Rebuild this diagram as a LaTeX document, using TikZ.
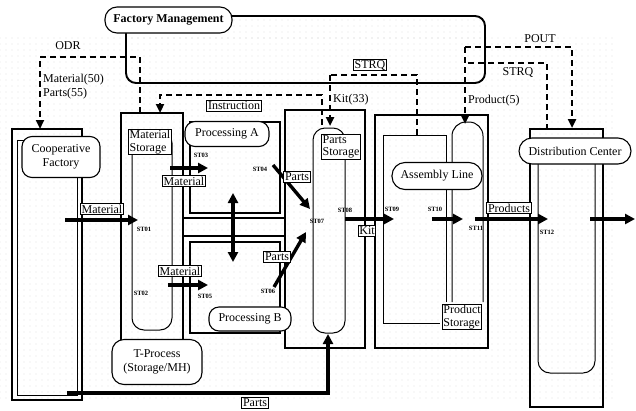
\documentclass[tikz,border=0pt]{standalone}
\usepackage{fontspec}
\setmainfont{Liberation Serif}
\usetikzlibrary{arrows.meta,patterns.meta}
\tikzdeclarepattern{
  name=sparsedots,
  type=uncolored,
  bottom left={(-0.6pt,-0.6pt)},
  top right={(0.6pt,0.6pt)},
  tile size={(6pt,6pt)},
  code={\fill (0pt,0pt) circle (0.45pt);}
}
\begin{document}
\begin{tikzpicture}[x=1pt,y=-1pt,
 mainln/.style={line width=1.9pt},
 thinln/.style={line width=1pt},
 dblln/.style={line width=2.3pt},
 flowarr/.style={line width=3.4pt,-{Triangle[length=10pt,width=10pt]}},
 flowdbl/.style={line width=3.4pt,{Triangle[length=10pt,width=10pt]}-{Triangle[length=10pt,width=10pt]}},
 ctrlln/.style={line width=2.6pt,dash pattern=on 6pt off 4pt},
 ctrlarr/.style={ctrlln,-{Triangle[length=9pt,width=8pt]}},
 rnode/.style={draw,fill=white,line width=1.1pt,rounded corners=10pt,font=\fontsize{12}{13.5}\selectfont,align=center,inner sep=2pt},
 lbl/.style={draw,fill=white,line width=0.9pt,inner sep=1.2pt,font=\fontsize{12}{12.5}\selectfont,align=left},
 stlbl/.style={font=\bfseries\fontsize{6.5}{7}\selectfont,inner sep=0pt},
 plaintxt/.style={font=\fontsize{12}{13}\selectfont,inner sep=0pt}
]
\useasboundingbox (0,0) rectangle (636,410);

% stippled background
\fill[pattern=sparsedots,pattern color=black!35] (0,36) rectangle (614,400);
\fill[pattern=sparsedots,pattern color=black!35] (126,16) rectangle (485,40);

% ---------- structure ----------
\draw[mainln,rounded corners=10pt] (126,16) rectangle (485,83);

% cooperative factory
\draw[mainln] (12,129) rectangle (82,400);
\draw[thinln] (17,140) rectangle (77,395);

% T-process
\draw[mainln] (121,340) -- (121,113) -- (183,113) -- (183,340);
\draw[thinln,rounded corners=12pt] (132,131) rectangle (172,330);

% processing A / B double lines
\draw[dblln] (190,122) rectangle (280,213);
\draw[dblln] (183,218) -- (285,218);
\draw[dblln] (190,242) rectangle (280,333);
\draw[dblln] (183,236) -- (285,236);

% parts storage
\draw[mainln] (285,110) rectangle (365,348);
\draw[thinln,rounded corners=12pt] (313,128) rectangle (345,333);

% assembly
\draw[mainln] (375,115) rectangle (488,348);
\draw[thinln] (446,302) -- (446,135) -- (383,135) -- (383,323) -- (440,323);
\draw[thinln,rounded corners=14pt] (452,302) -- (452,122) -- (483,122) -- (483,302);

% distribution
\draw[mainln] (530,129) rectangle (603,407);
\draw[thinln,rounded corners=12pt] (538,145) rectangle (595,373);

% ---------- coordinates ----------
\coordinate (odrA) at (140,113);
\coordinate (odrB) at (140,57);
\coordinate (odrC) at (40,57);
\coordinate (odrD) at (40,129);
\coordinate (insA) at (322,125);
\coordinate (insB) at (322,95);
\coordinate (insC) at (160,95);
\coordinate (insD) at (160,113);
\coordinate (sqA) at (417,135);
\coordinate (sqB) at (417,75);
\coordinate (sqC) at (330,75);
\coordinate (kitD) at (330,126);
\coordinate (poA) at (465,47);
\coordinate (poB) at (572,47);
\coordinate (poC) at (572,128);
\coordinate (prD) at (465,124);
\coordinate (sqrA) at (468,63);
\coordinate (sqrB) at (547,63);
\coordinate (sqrC) at (547,129);

% ---------- control (dashed) ----------
\draw[ctrlarr] (odrA) -- (odrB) -- (odrC) -- (odrD);
\draw[ctrlarr] (insA) -- (insB) -- (insC) -- (insD);
\draw[ctrlln] (sqA) -- (sqB) -- (sqC);
\draw[ctrlarr] (sqC) -- (kitD);
\draw[ctrlarr] (poA) -- (prD);
\draw[ctrlarr] (poA) -- (poB) -- (poC);
\draw[ctrlln] (sqrA) -- (sqrB) -- (sqrC);

% ---------- flows ----------
\coordinate (f1a) at (65,220);  \coordinate (f1b) at (138,220);
\coordinate (f2a) at (170,168); \coordinate (f2b) at (208,168);
\coordinate (f3a) at (168,285); \coordinate (f3b) at (208,285);
\coordinate (f4a) at (233,193); \coordinate (f4b) at (233,262);
\coordinate (f5a) at (273,165); \coordinate (f5b) at (310,209);
\coordinate (f6a) at (274,287); \coordinate (f6b) at (306,232);
\coordinate (f7a) at (345,219); \coordinate (f7b) at (394,219);
\coordinate (f8a) at (432,219); \coordinate (f8b) at (463,219);
\coordinate (f9a) at (475,219); \coordinate (f9b) at (548,219);
\coordinate (f10a) at (590,219); \coordinate (f10b) at (635,219);
\coordinate (f11a) at (67,393); \coordinate (f11b) at (328,393); \coordinate (f11c) at (328,334);

\draw[flowarr] (f1a) -- (f1b);
\draw[flowarr] (f2a) -- (f2b);
\draw[flowarr] (f3a) -- (f3b);
\draw[flowdbl] (f4a) -- (f4b);
\draw[flowarr] (f5a) -- (f5b);
\draw[flowarr] (f6a) -- (f6b);
\draw[flowarr] (f7a) -- (f7b);
\draw[flowarr] (f8a) -- (f8b);
\draw[flowarr] (f9a) -- (f9b);
\draw[flowarr] (f10a) -- (f10b);
\draw[flowarr] (f11a) -- (f11b) -- (f11c);

% ---------- main nodes ----------
\node[rnode,rounded corners=12pt,font=\bfseries\fontsize{12}{13}\selectfont,minimum width=127pt,minimum height=26pt] (fm) at (168.5,20) {Factory Management};
\node[rnode,minimum width=78pt,minimum height=41pt] (coop) at (61,157) {Cooperative\\Factory};
\node[rnode,minimum width=84pt,minimum height=25pt] (procA) at (227,134) {Processing A};
\node[rnode,minimum width=82pt,minimum height=24pt] (procB) at (250,319) {Processing B};
\node[rnode,minimum width=90pt,minimum height=45pt,rounded corners=12pt] (tproc) at (157,362) {T-Process\\(Storage/MH)};
\node[rnode,minimum width=90pt,minimum height=27pt,rounded corners=13pt] (asm) at (437,176) {Assembly Line};
\node[rnode,minimum width=112pt,minimum height=26pt,rounded corners=13pt] (dist) at (575,151) {Distribution Center};

% ---------- boxed labels ----------
\node[lbl] (matst) at (150,142) {Material\\Storage};
\node[lbl] (partst) at (341,147) {Parts\\Storage};
\node[lbl] (prodst) at (462,317) {Product\\Storage};
\node[lbl] (m1) at (102,209) {Material};
\node[lbl] (m2) at (184,181) {Material};
\node[lbl] (m3) at (180,271) {Material};
\node[lbl] (p1) at (297,177) {Parts};
\node[lbl] (p2) at (277,257) {Parts};
\node[lbl] (kit) at (367,231) {Kit};
\node[lbl] (prods) at (509,208) {Products};
\node[lbl] (p3) at (255,403) {Parts};
\node[lbl] (instr) at (234,106) {Instruction};
\node[lbl,inner sep=0.8pt] (strq1) at (370,65) {STRQ};

% ---------- plain texts ----------
\node[plaintxt] (odr) at (68,46) {ODR};
\node[plaintxt,anchor=west] (mat50) at (43,80) {Material(50)};
\node[plaintxt,anchor=west] (par55) at (43,94) {Parts(55)};
\node[plaintxt,anchor=west] (kit33) at (333,100) {Kit(33)};
\node[plaintxt,anchor=west] (prod5) at (468,101) {Product(5)};
\node[plaintxt] (pout) at (540,39) {POUT};
\node[plaintxt] (strq2) at (518,72) {STRQ};

% ---------- station labels ----------
\node[stlbl] (st01) at (144,229) {ST01};
\node[stlbl] (st02) at (141,293) {ST02};
\node[stlbl] (st03) at (201,155) {ST03};
\node[stlbl] (st04) at (260,169) {ST04};
\node[stlbl] (st05) at (205,296) {ST05};
\node[stlbl] (st06) at (268,291) {ST06};
\node[stlbl] (st07) at (317,221) {ST07};
\node[stlbl] (st08) at (345,210) {ST08};
\node[stlbl] (st09) at (392,209) {ST09};
\node[stlbl] (st10) at (435,209) {ST10};
\node[stlbl] (st11) at (476,228) {ST11};
\node[stlbl] (st12) at (547,232) {ST12};
\end{tikzpicture}
\end{document}
